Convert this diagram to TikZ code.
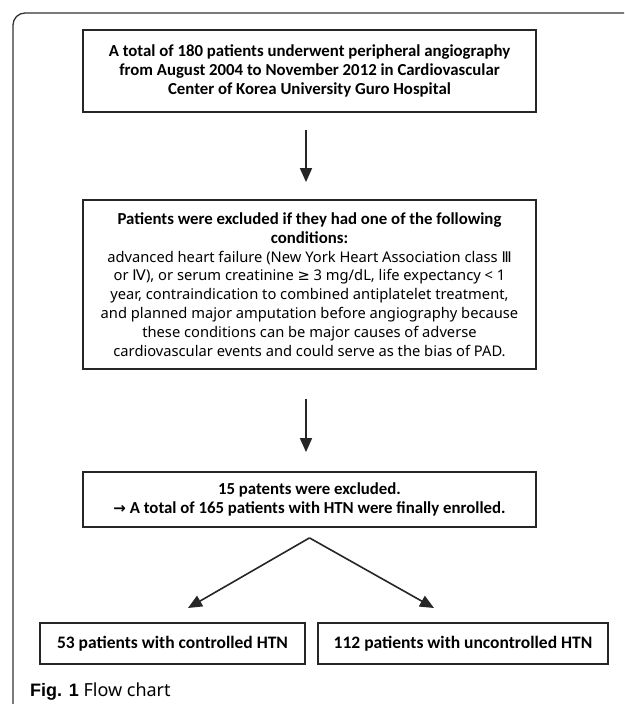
\documentclass[tikz,border=0pt]{standalone}
\usepackage{fontspec}
\setmainfont{Noto Sans}
\newfontfamily\boldf{Carlito}
\newfontfamily\symf{DejaVu Sans}
\newfontfamily\capbf{Liberation Sans}
\usetikzlibrary{arrows.meta,calc}
\begin{document}
\begin{tikzpicture}[x=1pt,y=-1pt,
  box/.style={draw=black!85, line width=1.8pt, inner sep=0pt, align=center},
  bbox/.style={box, font=\boldf\bfseries\fontsize{16.8}{19}\selectfont},
  arr/.style={-{Triangle[width=12pt,length=14pt]}, line width=1.6pt, draw=black!85},
]
\useasboundingbox (0,0) rectangle (624,704);
\fill[white] (0,0) rectangle (624,704);
\draw[line width=1.3pt, black!80, rounded corners=12pt] (13,704) -- (13,13) -- (624,13);

\node[bbox, minimum width=453pt, minimum height=82pt] (b1) at (309.5,71)
  {A total of 180 patients underwent peripheral angiography\\
   from August 2004 to November 2012 in Cardiovascular\\
   Center of Korea University Guro Hospital};

\node[box, minimum width=453pt, minimum height=169pt,
      font=\fontsize{14.7}{18.8}\selectfont] (b2) at (309.5,284.5)
  {{\boldf\bfseries\fontsize{16.8}{18.8}\selectfont Patients were excluded if they had one of the following}\\
   {\boldf\bfseries\fontsize{16.8}{18.8}\selectfont conditions:}\\
   advanced heart failure (New York Heart Association class {\symf Ⅲ}\\
   or {\symf Ⅳ}), or serum creatinine {\symf ≥} 3 mg/dL, life expectancy < 1\\
   year, contraindication to combined antiplatelet treatment,\\
   and planned major amputation before angiography because\\
   these conditions can be major causes of adverse\\
   cardiovascular events and could serve as the bias of PAD.};

\node[bbox, minimum width=453pt, minimum height=55pt] (b3) at (309.5,499.5)
  {15 patents were excluded.\\
   {\symf\fontsize{15}{19}\selectfont →} A total of 165 patients with HTN were finally enrolled.};

\node[bbox, minimum width=265pt, minimum height=41pt,
      font=\boldf\bfseries\fontsize{17.5}{20}\selectfont] (b4) at (172.5,643.5)
  {53 patients with controlled HTN};
\node[bbox, minimum width=290pt, minimum height=41pt,
      font=\boldf\bfseries\fontsize{17.5}{20}\selectfont] (b5) at (463,643.5)
  {112 patients with uncontrolled HTN};

\draw[arr, shorten <=17pt, shorten >=17pt] ([xshift=-3.5pt]b1.south) -- ([xshift=-3.5pt]b2.north);
\draw[arr, shorten <=29pt, shorten >=19pt] ([xshift=-3.5pt]b2.south) -- ([xshift=-3.5pt]b3.north);

\coordinate (apex) at ($(b3.south)+(0,10)$);
\coordinate (t4) at (188,608);
\coordinate (t5) at (434,608);
\draw[arr] (apex) -- (t4);
\draw[arr] (apex) -- (t5);

\node[anchor=base west, inner sep=0pt, font=\fontsize{18}{22}\selectfont] (cap) at (30,696)
  {{\capbf\bfseries Fig. 1} Flow chart};
\end{tikzpicture}
\end{document}
